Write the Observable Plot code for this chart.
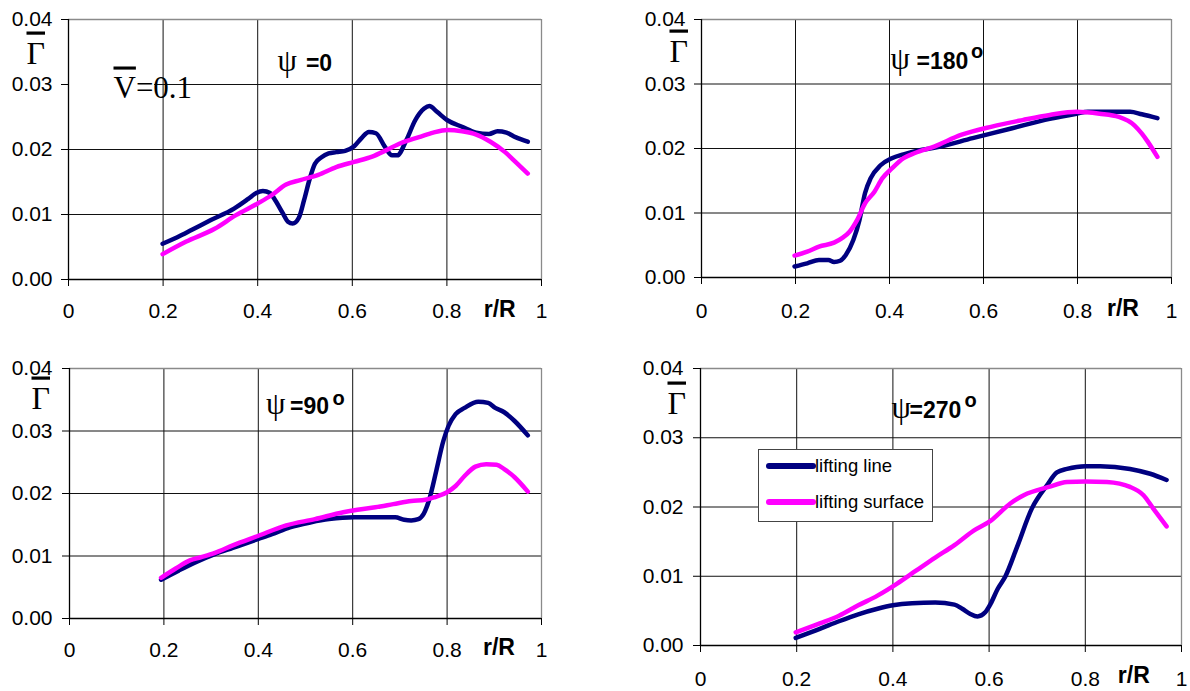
<!DOCTYPE html>
<html>
<head>
<meta charset="utf-8">
<script src="https://cdn.jsdelivr.net/npm/d3@7"></script>
<script src="https://cdn.jsdelivr.net/npm/@observablehq/plot@0.6"></script>
<style>
  html, body { margin: 0; padding: 0; background: #fff; }
  #wrap { position: relative; width: 1190px; height: 691px; overflow: hidden; background: #fff; }
  #wrap > svg { position: absolute; }
  #legend { position: absolute; box-sizing: border-box; background: #fff; border: 1px solid #444;
            font-family: "Liberation Sans", Arial, sans-serif; font-size: 18.5px; color: #000; }
  #legend .item { position: absolute; white-space: nowrap; }
</style>
</head>
<body>
<div id="wrap"></div>
<script>
// ---------- data ----------
const xTicks = [0, 0.2, 0.4, 0.6, 0.8, 1];
const xTickLabels = ["0", "0.2", "0.4", "0.6", "0.8", "1"];
const yTicks = [0, 0.01, 0.02, 0.03, 0.04];
const yTickLabels = ["0.00", "0.01", "0.02", "0.03", "0.04"];
const seriesNames = ["lifting line", "lifting surface"];
const seriesColors = ["#000080", "#ff00ff"];
const angleLabels = ["=0", "=180", "=90", "=270"];
const xAxisLabel = "r/R";
const gammaLabel = "Γ";
const psiLabel = "ψ";
const degreeLabel = "o";
const speedLabel = "V=0.1";

// psi = 0
const r0Line = [0.199,0.23,0.26,0.30,0.35,0.38,0.397,0.411,0.426,0.437,0.453,0.464,0.474,0.487,0.498,0.51,0.521,0.535,0.55,0.566,0.585,0.604,0.62,0.635,0.65,0.669,0.684,0.695,0.714,0.733,0.752,0.763,0.779,0.801,0.832,0.862,0.889,0.907,0.926,0.945,0.971];
const g0Line = [0.0055,0.0065,0.0076,0.0091,0.0109,0.0124,0.0133,0.0136,0.0133,0.0122,0.0102,0.0089,0.0086,0.0095,0.0122,0.0155,0.0178,0.0188,0.0194,0.0196,0.0198,0.0205,0.0218,0.0227,0.0225,0.0204,0.0191,0.0191,0.0214,0.0245,0.0263,0.0267,0.0258,0.0245,0.0235,0.0226,0.0224,0.0228,0.0226,0.0219,0.0212];
const r0Surf = [0.199,0.248,0.309,0.354,0.40,0.43,0.46,0.49,0.528,0.566,0.604,0.642,0.672,0.703,0.741,0.771,0.801,0.832,0.862,0.892,0.923,0.945,0.971];
const g0Surf = [0.0039,0.0058,0.0078,0.0099,0.0117,0.0130,0.0146,0.0153,0.0161,0.0173,0.0181,0.0189,0.0199,0.0210,0.0219,0.0226,0.0230,0.0228,0.0223,0.0212,0.0196,0.0181,0.0163];

// psi = 180
const r180Line = [0.198,0.225,0.25,0.27,0.282,0.295,0.307,0.323,0.336,0.348,0.36,0.381,0.405,0.43,0.462,0.495,0.577,0.659,0.741,0.798,0.822,0.912,0.937,0.97];
const g180Line = [0.0017,0.0022,0.0027,0.0027,0.0024,0.0026,0.0035,0.0058,0.0089,0.0131,0.0154,0.0174,0.0185,0.0191,0.0197,0.0201,0.0216,0.0231,0.0246,0.0254,0.0257,0.0257,0.0253,0.0247];
const r180Surf = [0.198,0.225,0.25,0.282,0.299,0.315,0.331,0.348,0.368,0.385,0.405,0.43,0.454,0.495,0.552,0.618,0.683,0.741,0.798,0.847,0.888,0.921,0.937,0.949,0.97];
const g180Surf = [0.0034,0.0040,0.0048,0.0054,0.0061,0.0071,0.0089,0.0115,0.0133,0.0154,0.0169,0.0185,0.0193,0.0203,0.0221,0.0234,0.0244,0.0252,0.0257,0.0254,0.0249,0.0236,0.0223,0.0211,0.0187];

// psi = 90
const r90Line = [0.194,0.232,0.27,0.308,0.346,0.399,0.429,0.467,0.512,0.55,0.603,0.648,0.69,0.709,0.724,0.739,0.75,0.762,0.777,0.792,0.803,0.818,0.837,0.866,0.887,0.902,0.921,0.943,0.971];
const g90Line = [0.0062,0.0077,0.0091,0.0103,0.0113,0.0127,0.0135,0.0146,0.0154,0.0159,0.0162,0.0162,0.0162,0.0158,0.0157,0.0159,0.0167,0.0190,0.0236,0.0284,0.0308,0.0327,0.0337,0.0347,0.0345,0.0337,0.0330,0.0316,0.0293];
const r90Surf = [0.194,0.225,0.255,0.278,0.308,0.346,0.399,0.459,0.52,0.58,0.61,0.648,0.686,0.724,0.754,0.773,0.80,0.818,0.837,0.86,0.883,0.905,0.921,0.943,0.971];
const g90Surf = [0.0065,0.0080,0.0093,0.0098,0.0105,0.0117,0.0132,0.0149,0.0159,0.0170,0.0174,0.0178,0.0183,0.0188,0.0190,0.0194,0.0202,0.0212,0.0228,0.0243,0.0247,0.0246,0.0239,0.0226,0.0203];

// psi = 270
const r270Line = [0.198,0.248,0.288,0.328,0.368,0.40,0.44,0.488,0.528,0.544,0.56,0.576,0.592,0.603,0.618,0.634,0.658,0.689,0.72,0.741,0.762,0.80,0.831,0.893,0.935,0.969];
const g270Line = [0.0011,0.0024,0.0035,0.0045,0.0053,0.0058,0.0061,0.0062,0.0059,0.0053,0.0046,0.0042,0.0048,0.0060,0.0082,0.0100,0.0142,0.0198,0.0231,0.0250,0.0255,0.0259,0.0259,0.0255,0.0248,0.0239];
const r270Surf = [0.198,0.248,0.288,0.328,0.368,0.408,0.448,0.488,0.528,0.568,0.603,0.644,0.672,0.724,0.762,0.80,0.845,0.893,0.921,0.941,0.969];
const g270Surf = [0.0019,0.0032,0.0043,0.0058,0.0072,0.0089,0.0108,0.0127,0.0145,0.0166,0.0180,0.0205,0.0217,0.0229,0.0236,0.0237,0.0236,0.0229,0.0217,0.0198,0.0172];

// ---------- helpers ----------
function table(rLine, gLine, rSurf, gSurf) {
  const rows = [];
  rLine.forEach((r, i) => rows.push({r, g: gLine[i], series: seriesNames[0]}));
  rSurf.forEach((r, i) => rows.push({r, g: gSurf[i], series: seriesNames[1]}));
  return rows;
}

const SANS = "'Liberation Sans', Arial, sans-serif";
const SERIF = "'Liberation Serif', 'Times New Roman', serif";

// layout (pixels) for each panel
const layout = [
  {rows: table(r0Line, g0Line, r0Surf, g0Surf), angle: angleLabels[0],
   left: 0, top: 0, width: 590, height: 340, mt: 19, mr: 49, mb: 61, ml: 68, xpad: 16.3, ypad: 9,
   gamma: [-42, 44], psi: [209, 51], eq: [237.4, 51], deg: null, rR: [-41.8, 37.4], speed: [45, 78]},
  {rows: table(r180Line, g180Line, r180Surf, g180Surf), angle: angleLabels[1],
   left: 590, top: 0, width: 600, height: 340, mt: 19, mr: 19, mb: 63, ml: 111, xpad: 18.3, ypad: 9,
   gamma: [-32, 42], psi: [189, 49], eq: [215, 49], deg: [269.5, 38], rR: [-48.5, 38]},
  {rows: table(r90Line, g90Line, r90Surf, g90Surf), angle: angleLabels[2],
   left: 0, top: 340, width: 590, height: 351, mt: 28, mr: 49, mb: 73, ml: 69, xpad: 16.5, ypad: 10,
   gamma: [-38, 40], psi: [196.5, 45], eq: [220.5, 45], deg: [263, 36], rR: [-42.5, 36.7]},
  {rows: table(r270Line, g270Line, r270Surf, g270Surf), angle: angleLabels[3],
   left: 590, top: 340, width: 600, height: 351, mt: 28, mr: 9, mb: 46, ml: 110, xpad: 19, ypad: 10,
   gamma: [-33, 45], psi: [191, 49], eq: [209, 49], deg: [264, 38], rR: [-47.7, 37]}
];

function label(text, pos, opts) {
  return Plot.text([text], Object.assign({
    text: d => d, frameAnchor: "top-left", dx: pos[0], dy: pos[1],
    textAnchor: "start", lineAnchor: "bottom", fill: "#000"
  }, opts));
}

const wrap = document.getElementById("wrap");

layout.forEach(p => {
  const marks = [
    Plot.ruleX(xTicks.filter(v => v > 0 && v < 1), {stroke: "#111", strokeWidth: 1}),
    Plot.ruleY(yTicks.filter(v => v > 0 && v < 0.04), {stroke: "#111", strokeWidth: 1}),
    Plot.ruleX([1], {stroke: "#8a8a8a", strokeWidth: 1.3}),
    Plot.ruleY([0.04], {stroke: "#8a8a8a", strokeWidth: 1.3}),
  ];
  if (p.speed) {
    marks.push(label(speedLabel, p.speed, {fontFamily: SERIF, fontSize: 31, ariaDescription: "ovfirst"}));
  }
  marks.push(
    Plot.line(p.rows, {x: "r", y: "g", stroke: "series", z: "series", curve: "monotone-x",
      strokeWidth: 4.5, strokeLinecap: "round", strokeLinejoin: "round"}),
    Plot.ruleX([0], {stroke: "#000", strokeWidth: 1.3}),
    Plot.ruleY([0], {stroke: "#000", strokeWidth: 1.3}),
    Plot.axisX(xTicks, {tickSize: 7, tickPadding: p.xpad, fontSize: 21, label: null,
      ariaDescription: "ticklabels",
      tickFormat: d => xTickLabels[xTicks.indexOf(d)]}),
    Plot.axisY(yTicks, {tickSize: 7, tickPadding: p.ypad, fontSize: 21, label: null,
      ariaDescription: "ticklabels",
      tickFormat: d => yTickLabels[yTicks.indexOf(d)]}),
    label(gammaLabel, p.gamma, {fontFamily: SERIF, fontSize: 32, ariaDescription: "ov"}),
    label(psiLabel, p.psi, {fontFamily: SERIF, fontSize: 31}),
    label(p.angle, p.eq, {fontFamily: SANS, fontSize: 23, fontWeight: "bold"}),
    Plot.text([xAxisLabel], {text: d => d, frameAnchor: "bottom-right", dx: p.rR[0], dy: p.rR[1],
      textAnchor: "middle", lineAnchor: "bottom", fontFamily: SANS, fontSize: 23, fontWeight: "bold", fill: "#000"})
  );
  if (p.deg) {
    marks.push(label(degreeLabel, p.deg, {fontFamily: SANS, fontSize: 20, fontWeight: "bold"}));
  }

  const svg = Plot.plot({
    width: p.width, height: p.height,
    marginTop: p.mt, marginRight: p.mr, marginBottom: p.mb, marginLeft: p.ml,
    x: {domain: [0, 1], label: null},
    y: {domain: [0, 0.04], label: null},
    color: {domain: seriesNames, range: seriesColors},
    style: {fontFamily: SANS, fontSize: "21px", color: "#000", background: "transparent", overflow: "visible"},
    marks
  });
  svg.style.left = p.left + "px";
  svg.style.top = p.top + "px";
  wrap.appendChild(svg);

  // make sure tick labels use the chart's 21px size
  svg.querySelectorAll('g[aria-label$="tick label"]').forEach(g => {
    g.setAttribute("font-size", 21);
    g.style.fontSize = "21px";
  });

  const NS = "http://www.w3.org/2000/svg";
  svg.querySelectorAll('g[aria-description="ov"] text').forEach(t => {
    t.style.textDecoration = "overline";
    t.style.textDecorationThickness = "2.5px";
  });
  svg.querySelectorAll('g[aria-description="ovfirst"] text').forEach(t => {
    const s = t.textContent;
    t.textContent = "";
    const a = document.createElementNS(NS, "tspan");
    a.textContent = s[0];
    a.style.textDecoration = "overline";
    a.style.textDecorationThickness = "2.5px";
    const b = document.createElementNS(NS, "tspan");
    b.textContent = s.slice(1);
    t.appendChild(a); t.appendChild(b);
    // white annotation box behind the text (covers the grid like the original)
    const g = t.parentNode;
    const bb = t.getBBox();
    const rect = document.createElementNS(NS, "rect");
    rect.setAttribute("x", bb.x - 20);
    rect.setAttribute("y", bb.y - 12);
    rect.setAttribute("width", bb.width + 50);
    rect.setAttribute("height", bb.height + 15);
    rect.setAttribute("fill", "#fff");
    const tr = g.getAttribute("transform");
    if (tr) rect.setAttribute("transform", tr);
    g.parentNode.insertBefore(rect, g);
  });
});

// legend inside the psi=270 panel
const legend = document.createElement("div");
legend.id = "legend";
Object.assign(legend.style, {left: "758px", top: "449px", width: "175px", height: "73px"});
const legendRowsY = [16, 52];
seriesNames.forEach((name, i) => {
  const sw = document.createElementNS("http://www.w3.org/2000/svg", "svg");
  sw.setAttribute("width", 52); sw.setAttribute("height", 10);
  sw.style.position = "absolute"; sw.style.left = "6px"; sw.style.top = (legendRowsY[i] - 5) + "px";
  const ln = document.createElementNS("http://www.w3.org/2000/svg", "line");
  ln.setAttribute("x1", 4); ln.setAttribute("x2", 48); ln.setAttribute("y1", 5); ln.setAttribute("y2", 5);
  ln.setAttribute("stroke", seriesColors[i]); ln.setAttribute("stroke-width", 6);
  ln.setAttribute("stroke-linecap", "round");
  sw.appendChild(ln);
  legend.appendChild(sw);
  const tx = document.createElement("div");
  tx.className = "item";
  tx.textContent = name;
  tx.style.left = "56px";
  tx.style.top = (legendRowsY[i] - 11) + "px";
  tx.style.lineHeight = "22px";
  legend.appendChild(tx);
});
wrap.appendChild(legend);
</script>
</body>
</html>
